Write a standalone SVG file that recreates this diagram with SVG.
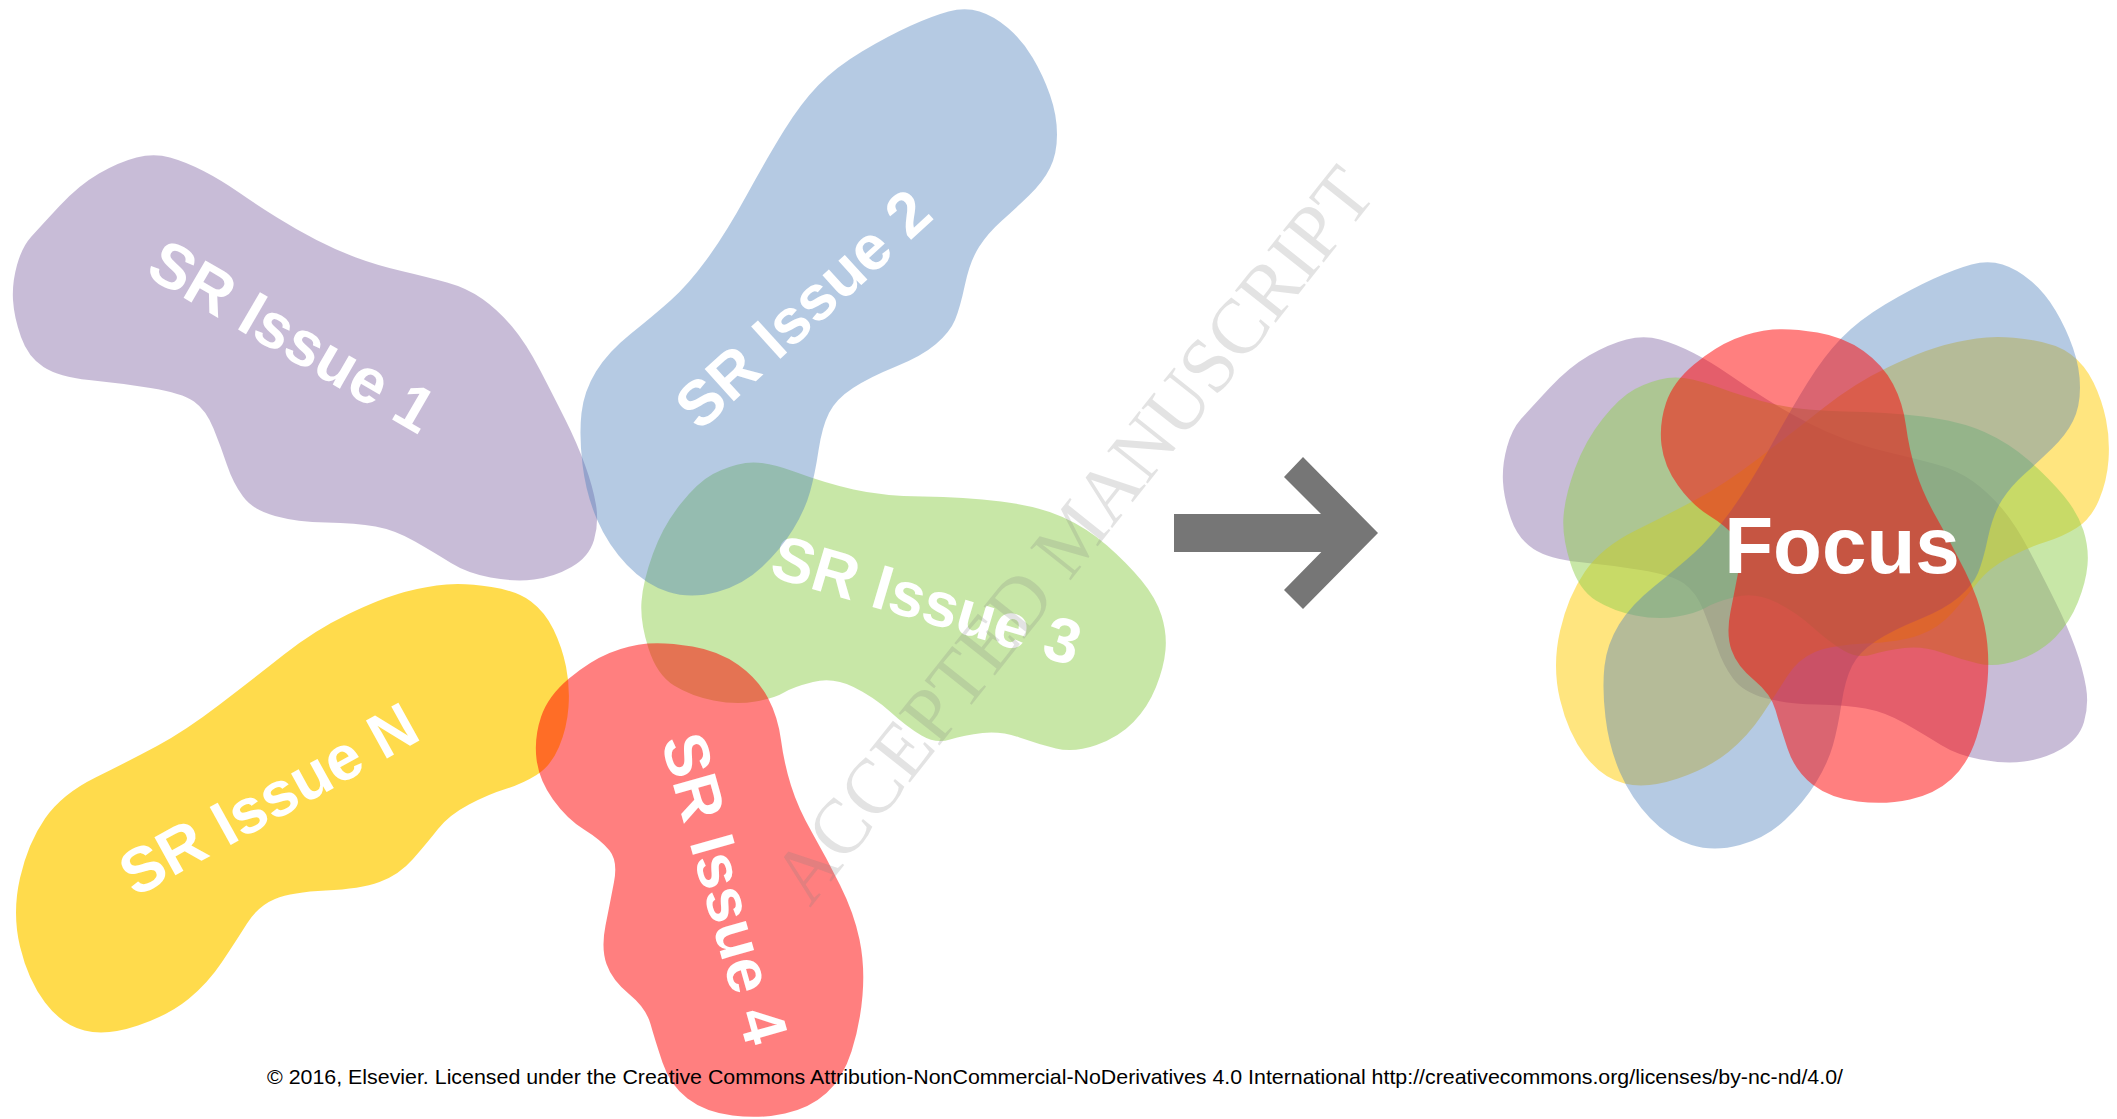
<svg xmlns="http://www.w3.org/2000/svg" xmlns:xlink="http://www.w3.org/1999/xlink" width="2117" height="1119" viewBox="0 0 2117 1119">
<style>
.p{fill:#8064A2;fill-opacity:.43}
.b{fill:#4F81BD;fill-opacity:.42}
.g{fill:#92D050;fill-opacity:.5}
.y{fill:#FFCC00;fill-opacity:.7}
.y2{fill:#FFCC00;fill-opacity:.5}
.r{fill:#FF0000;fill-opacity:.5}
.lbl{font-family:"Liberation Sans",Arial,sans-serif;font-weight:bold;font-size:63px;fill:#fff;text-anchor:middle}
.focus{font-family:"Liberation Sans",Arial,sans-serif;font-weight:bold;font-size:80px;fill:#fff;text-anchor:middle}
.arrow{fill:#767676}
.wm{font-family:"Liberation Serif","Times New Roman",serif;font-size:79px;fill:#7f7f7f;fill-opacity:.22}
.foot{font-family:"Liberation Sans",Arial,sans-serif;font-size:21px;fill:#000}
</style>
<defs>
<path id="blob1" d="M136.5,157.5 Q154,153 170,157.5 Q186,162 203.5,171 Q221,180 239,192.5 Q257,205 277,217.5 Q297,230 316.5,240 Q336,250 356,257.5 Q376,265 401.5,271 Q427,277 447,282.5 Q467,288 482.5,299 Q498,310 512,326.5 Q526,343 540,370 Q554,397 565.5,420 Q577,443 585,465 Q593,487 596,505 Q599,523 594,540 Q589,557 571.5,567 Q554,577 534,579.5 Q514,582 490.5,577.5 Q467,573 451,563 Q435,553 415,541.5 Q395,530 375.5,526.5 Q356,523 326.5,522.5 Q297,522 275,516 Q253,510 243,496.5 Q233,483 227,465 Q221,447 213.5,428.5 Q206,410 194,401.5 Q182,393 150.5,388 Q119,383 89,380 Q59,377 43.5,367 Q28,357 21,337 Q14,317 13,300 Q12,283 17,265 Q22,247 31,237 Q40,227 59.5,206 Q79,185 99,173.5 Q119,162 136.5,157.5 Z"/>
<path id="blob2" d="M948.5,11.5 Q965,7 979.5,11.5 Q994,16 1008,28 Q1022,40 1032.5,57.5 Q1043,75 1050,95 Q1057,115 1057,134.5 Q1057,154 1050,168 Q1043,182 1029,195.5 Q1015,209 1001.5,221 Q988,233 979,247 Q970,261 965,284.5 Q960,308 955,320 Q950,332 936,344 Q922,356 896,366.5 Q870,377 853,388 Q836,399 829,413 Q822,427 818.5,450.5 Q815,474 810,492 Q805,510 793,529.5 Q781,549 762,567 Q743,585 717,592 Q691,599 668.5,592 Q646,585 627,565 Q608,545 597,519.5 Q586,494 582.5,464.5 Q579,435 581.5,413 Q584,391 596,371.5 Q608,352 630.5,334 Q653,316 670.5,300.5 Q688,285 707,259 Q726,233 746.5,195.5 Q767,158 784,130.5 Q801,103 818.5,85 Q836,67 862,51.5 Q888,36 910,26 Q932,16 948.5,11.5 Z"/>
<path id="blob3" d="M713,474 Q728,466 745.5,463 Q763,460 794,471.5 Q825,483 853.5,489.5 Q882,496 923,496.5 Q964,497 1001,501.5 Q1038,506 1062.5,517 Q1087,528 1107,545.5 Q1127,563 1141.5,580.5 Q1156,598 1161.5,615.5 Q1167,633 1165.5,650 Q1164,667 1156,687 Q1148,707 1133.5,722 Q1119,737 1096.5,745 Q1074,753 1056,748.5 Q1038,744 1019.5,737.5 Q1001,731 982.5,733 Q964,735 950,739.5 Q936,744 921.5,735.5 Q907,727 890.5,712 Q874,697 853.5,687 Q833,677 813,682 Q793,687 784,692.5 Q775,698 755.5,701.5 Q736,705 713.5,700.5 Q691,696 674,685.5 Q657,675 648.5,648.5 Q640,622 641.5,601.5 Q643,581 653,553.5 Q663,526 680.5,504 Q698,482 713,474 Z"/>
<path id="blobN" d="M446.5,584.5 Q466,583 491.5,587 Q517,591 531,601.5 Q545,612 553.5,629.5 Q562,647 566,666.5 Q570,686 568.5,707 Q567,728 559,747 Q551,766 536.5,775 Q522,784 505.5,789 Q489,794 469,804.5 Q449,815 438,829 Q427,843 413,859 Q399,875 379.5,882 Q360,889 326,890.5 Q292,892 275,899 Q258,906 247,923.5 Q236,941 222,962 Q208,983 188.5,999 Q169,1015 138,1025.5 Q107,1036 84.5,1030.5 Q62,1025 45,1002.5 Q28,980 20,946.5 Q12,913 20,878 Q28,843 45,818.5 Q62,794 95.5,777.5 Q129,761 157,746 Q185,731 219,705 Q253,679 284,654.5 Q315,630 348.5,614 Q382,598 404.5,592 Q427,586 446.5,584.5 Z"/>
<path id="blob4" d="M647.5,643.5 Q666,642 692.5,646.5 Q719,651 738.5,665 Q758,679 768,698 Q778,717 781,740 Q784,763 791,785.5 Q798,808 812,832.5 Q826,857 840,885 Q854,913 859.5,939.5 Q865,966 862.5,995.5 Q860,1025 851.5,1051.5 Q843,1078 826.5,1093 Q810,1108 785,1113.5 Q760,1119 732.5,1115.5 Q705,1112 687.5,1098.5 Q670,1085 662.5,1062.5 Q655,1040 650.5,1024 Q646,1008 629,994 Q612,980 606.5,964 Q601,948 605.5,925.5 Q610,903 614,882 Q618,861 609.5,850.5 Q601,840 584,829.5 Q567,819 553,799.5 Q539,780 536.5,759 Q534,738 541,717 Q548,696 569,678.5 Q590,661 609.5,653 Q629,645 647.5,643.5 Z"/>
</defs>

<g id="sr-issue-1">
<use xlink:href="#blob1" href="#blob1" class="p"/>
<text class="lbl" transform="translate(293,335) rotate(30.2)" y="23">SR Issue 1</text>
</g>
<g id="sr-issue-n">
<use xlink:href="#blobN" href="#blobN" class="y"/>
<text class="lbl" transform="translate(268,798) rotate(-28.9)" y="23">SR Issue N</text>
</g>
<g id="sr-issue-3">
<use xlink:href="#blob3" href="#blob3" class="g"/>
<text class="lbl" transform="translate(927,599) rotate(16.5)" y="23">SR Issue 3</text>
</g>
<g id="sr-issue-2">
<use xlink:href="#blob2" href="#blob2" class="b"/>
<text class="lbl" transform="translate(802,308) rotate(-42.3)" y="23">SR Issue 2</text>
</g>
<g id="sr-issue-4">
<use xlink:href="#blob4" href="#blob4" class="r"/>
<text class="lbl" transform="translate(726,888) rotate(74.3)" y="23">SR Issue 4</text>
</g>

<g id="focus">
<use xlink:href="#blob1" href="#blob1" class="p" transform="translate(1490,182)"/>
<use xlink:href="#blobN" href="#blobN" class="y2" transform="translate(1540,-247)"/>
<use xlink:href="#blob3" href="#blob3" class="g" transform="translate(922,-85)"/>
<use xlink:href="#blob2" href="#blob2" class="b" transform="translate(1023,253)"/>
<use xlink:href="#blob4" href="#blob4" class="r" transform="translate(1125,-314)"/>
<text class="focus" x="1842" y="573">Focus</text>
</g>

<g id="connectors">
<rect class="arrow" x="1174" y="514" width="170" height="38"/>
<polygon class="arrow" points="1303,457 1378,533 1303,609 1284,590 1340,533 1284,477"/>
</g>

<text class="wm" transform="translate(810,908) rotate(-51.5)" textLength="912" lengthAdjust="spacingAndGlyphs">ACCEPTED MANUSCRIPT</text>

<text class="foot" x="267" y="1084" textLength="1576" lengthAdjust="spacingAndGlyphs">© 2016, Elsevier. Licensed under the Creative Commons Attribution-NonCommercial-NoDerivatives 4.0 International http://creativecommons.org/licenses/by-nc-nd/4.0/</text>
</svg>
